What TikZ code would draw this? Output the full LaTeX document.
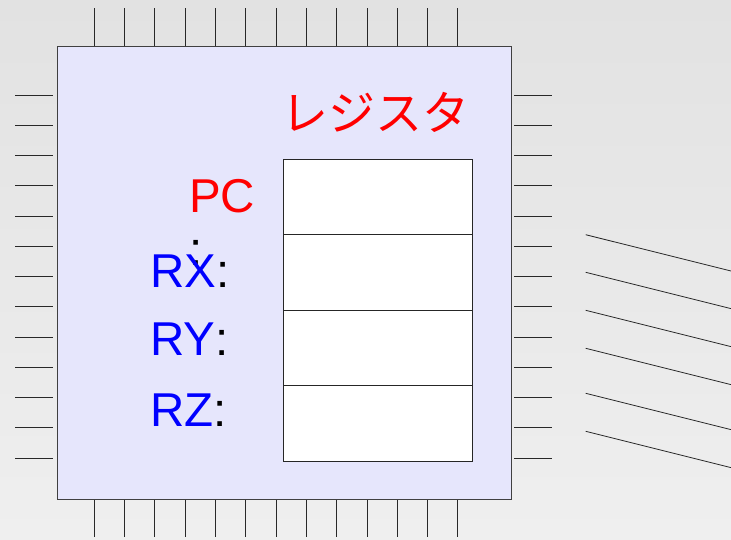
\documentclass[tikz,border=0pt]{standalone}
\usepackage{fontspec}
\setmainfont{Liberation Sans}
\newfontfamily\cjk{Noto Sans CJK JP}
\definecolor{chipfill}{RGB}{230,230,252}
\definecolor{pincol}{RGB}{40,40,40}
\begin{document}
\begin{tikzpicture}[x=1pt,y=-1pt,
  pin/.style={draw=pincol,line width=1pt},
  chipbox/.style={draw=black!75,line width=1pt,fill=chipfill},
  regbox/.style={draw=black!85,line width=1pt,fill=white,minimum width=189pt,minimum height=75.5pt,inner sep=0pt,outer sep=0pt},
  big/.style={font=\fontsize{47.5}{52}\selectfont,inner sep=0pt,outer sep=0pt},
  wire/.style={draw=black!85,line width=0.8pt}]
\useasboundingbox (0,0) rectangle (731,539);
\shade[top color={rgb,255:red,226;green,226;blue,226},bottom color={rgb,255:red,239;green,239;blue,239}] (0,0) rectangle (731,539);
% pins
\foreach \k in {0,...,12}{
  \draw[pin] ({94.3+30.3*\k},8) -- ({94.3+30.3*\k},46);
  \draw[pin] ({94.3+30.3*\k},499) -- ({94.3+30.3*\k},537);
  \draw[pin] (15,{95+30.25*\k}) -- (52.7,{95+30.25*\k});
  \draw[pin] (514,{95+30.25*\k}) -- (552,{95+30.25*\k});
}
% chip body
\node[chipbox,minimum width=454pt,minimum height=453pt,inner sep=0pt,anchor=north west] (chip) at (56.5,46) {};
% registers
\node[regbox,anchor=north west] (pcreg) at (283.3,159.3) {};
\node[regbox,anchor=north] (rxreg) at (pcreg.south) {};
\node[regbox,anchor=north] (ryreg) at (rxreg.south) {};
\node[regbox,anchor=north] (rzreg) at (ryreg.south) {};
% labels
\node[big,anchor=base west,text=red] (title) at (281,130.5) {\cjk\fontsize{47}{52}\selectfont レジスタ};
\node[big,anchor=base west,text=red] (pclbl) at (189,212.3) {PC};
\node[big,anchor=base west] (pccolon) at (189.5,265) {:};
\node[big,anchor=base west] (rxlbl) at (150.5,287.7) {\textcolor{blue}{RX}:};
\node[big,anchor=base west] (rylbl) at (150.5,355.7) {\textcolor{blue}{RY}:};
\node[big,anchor=base west] (rzlbl) at (150.5,426.7) {\textcolor{blue}{RZ}:};
% diagonal wires
\foreach \y in {234.7,272.3,310.3,348.3,393.3,431.3}{
  \draw[wire] (585.7,\y) -- (731,{\y+36.3});
}
\end{tikzpicture}
\end{document}
